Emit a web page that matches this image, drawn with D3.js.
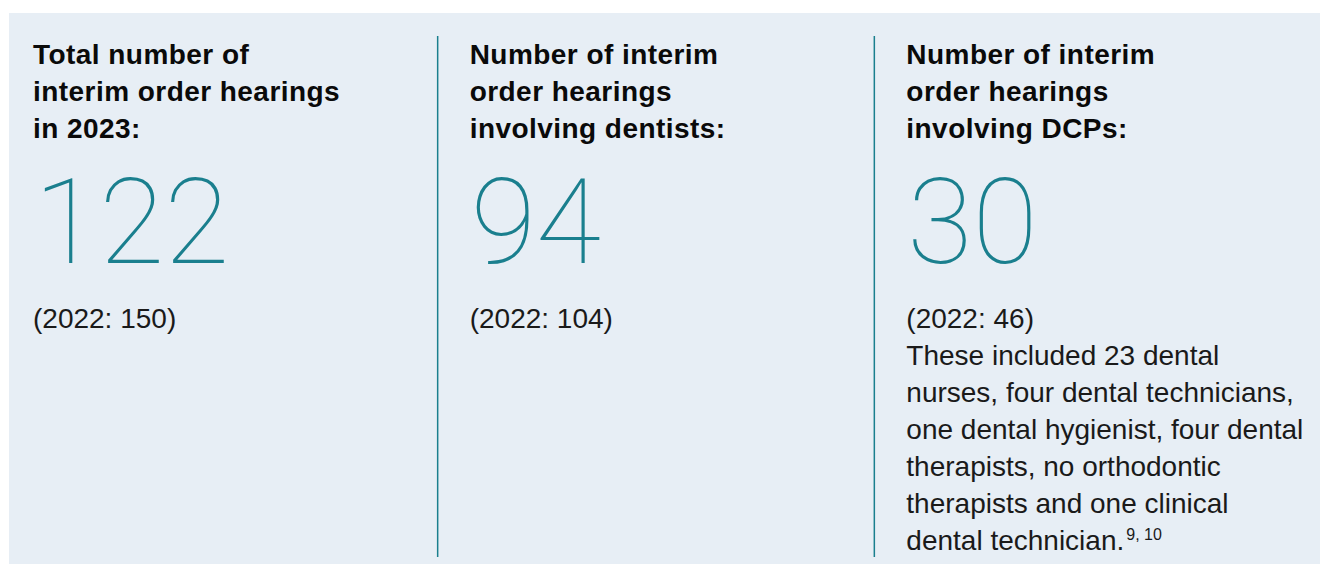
<!DOCTYPE html>
<meta charset="utf-8">
<style>body { margin: 0; } svg { display: block; }</style>

<!-- Load d3.js -->
<script src="https://d3js.org/d3.v7.min.js"></script>

<svg id="my_dataviz" width="1320" height="564"></svg>

<script>

// Data
var columns = [0, 1, 2];
var titles = [
  ["Total number of", "interim order hearings", "in 2023:"],
  ["Number of interim", "order hearings", "involving dentists:"],
  ["Number of interim", "order hearings", "involving DCPs:"]
];
var values = [122, 94, 30];
var prevYear = 2022;
var prevValues = [150, 104, 46];
var notes = [
  [],
  [],
  ["These included 23 dental", "nurses, four dental technicians,", "one dental hygienist, four dental",
   "therapists, no orthodontic", "therapists and one clinical", "dental technician."]
];
var footnoteRefs = ["9, 10"];

// The svg
var svg = d3.select("svg"),
  width = +svg.attr("width"),
  height = +svg.attr("height");

var teal = "#1a7f8e";

// background panel
svg.append("rect")
  .attr("x", 9).attr("y", 13)
  .attr("width", width - 9).attr("height", height - 13)
  .attr("fill", "#e7eef5");

// one band per column
var x = d3.scaleBand()
  .domain(columns)
  .range([1, 1311]);

var inset = 32;
var lineH = 37;

// dividers between columns
svg.append("g")
  .selectAll("line")
  .data(columns.slice(1))
  .enter()
  .append("line")
    .attr("x1", function(d) { return x(d); })
    .attr("x2", function(d) { return x(d); })
    .attr("y1", 36).attr("y2", 557)
    .attr("stroke", teal)
    .attr("stroke-width", 1.5);

var col = svg.append("g")
  .selectAll("g")
  .data(columns)
  .enter()
  .append("g")
    .attr("transform", function(d) { return "translate(" + (x(d) + inset) + ",0)"; });

// bold headings
col.append("text")
  .attr("font-family", "'Liberation Sans', Arial, Helvetica, sans-serif")
  .attr("font-weight", "bold")
  .attr("font-size", 28)
  .attr("letter-spacing", 0.45)
  .attr("fill", "#0a0a0a")
  .selectAll("tspan")
  .data(function(d) { return titles[d]; })
  .enter()
  .append("tspan")
    .attr("x", 0)
    .attr("y", function(d, i) { return 64 + i * lineH; })
    .text(function(d) { return d; });

// big thin numbers
col.append("text")
  .attr("x", 1)
  .attr("y", 262.5)
  .attr("font-family", "Roboto, Inter, sans-serif")
  .attr("font-weight", 100)
  .attr("font-size", 119)
  .attr("fill", teal)
  .text(function(d) { return values[d]; });

// previous year comparison and notes
var body = col.append("text")
  .attr("font-family", "'Liberation Sans', Arial, Helvetica, sans-serif")
  .attr("font-size", 28)
  .attr("fill", "#1a1a1a");

body.append("tspan")
  .attr("x", 0)
  .attr("y", 328)
  .text(function(d) { return "(" + prevYear + ": " + prevValues[d] + ")"; });

body.selectAll("tspan.note")
  .data(function(d) { return notes[d]; })
  .enter()
  .append("tspan")
    .attr("class", "note")
    .attr("x", 0)
    .attr("y", function(d, i) { return 365 + i * lineH; })
    .text(function(d) { return d; });

// footnote reference on the last note line
var lastNote = body.filter(function(d) { return notes[d].length > 0; });
lastNote.append("tspan")
  .attr("dx", 2)
  .attr("dy", -10)
  .attr("font-size", 16)
  .text(footnoteRefs[0]);

</script>
